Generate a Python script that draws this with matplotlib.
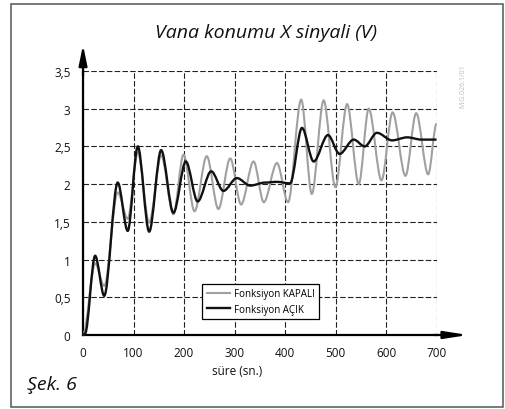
import matplotlib
matplotlib.use("Agg")
import matplotlib.pyplot as plt
from matplotlib.path import Path
from matplotlib.patches import PathPatch, Rectangle
from matplotlib.lines import Line2D

# values (peaks / troughs of each curve)
acik_x = [0, 4, 24, 42, 68.7, 88.5, 108.4, 131, 154.7, 179, 203.6, 227, 253.8, 278,
          304.7, 331, 360, 384, 410, 433.6, 456.7, 485, 508, 536, 557.8, 582, 612,
          642, 670, 700]
acik_y = [0, 0.02, 1.05, 0.52, 2.02, 1.38, 2.50, 1.37, 2.45, 1.62, 2.30, 1.77, 2.17, 1.91,
          2.08, 1.98, 2.02, 2.03, 2.01, 2.745, 2.30, 2.65, 2.40, 2.59, 2.50, 2.68, 2.58,
          2.62, 2.59, 2.59]

kapali_x = [0, 24, 42, 68.7, 88.5, 108.4, 131, 154.7, 179, 199, 220.8, 245, 268, 291.5,
            313, 337.7, 358, 384, 406, 432, 453, 476.5, 499.7, 522.9, 546, 565.8, 591,
            613, 638.5, 659.7, 683.5, 700]
kapali_y = [0, 0.95, 0.65, 1.89, 1.54, 2.42, 1.49, 2.38, 1.60, 2.39, 1.64, 2.37, 1.67, 2.34,
            1.73, 2.30, 1.76, 2.28, 1.76, 3.12, 1.87, 3.11, 1.96, 3.06, 2.00, 3.00, 2.05,
            2.95, 2.11, 2.94, 2.13, 2.80]

x_ticks = [0, 100, 200, 300, 400, 500, 600, 700]
y_ticks = [0, 0.5, 1, 1.5, 2, 2.5, 3, 3.5]
y_labels = ["0", "0,5", "1", "1,5", "2", "2,5", "3", "3,5"]

plt.rcParams["font.family"] = ["Open Sans", "DejaVu Sans"]


def smooth_path(xs, ys):
    # cubic bezier through the extrema, flat tangent at each one
    verts = [(xs[0], ys[0])]
    codes = [Path.MOVETO]
    for i in range(len(xs) - 1):
        dx = (xs[i + 1] - xs[i]) / 3.0
        verts += [(xs[i] + dx, ys[i]), (xs[i + 1] - dx, ys[i + 1]), (xs[i + 1], ys[i + 1])]
        codes += [Path.CURVE4] * 3
    return Path(verts, codes)


fig = plt.figure(figsize=(5.05, 4.1), dpi=100)
ax = fig.add_axes([0.1644, 0.1805, 0.70, 0.644])

# outer frame
fig.patches.append(Rectangle((11 / 505, 2 / 410), 492 / 505, 403 / 410, transform=fig.transFigure,
                             fill=False, edgecolor="#555555", lw=1.1))

ax.set_xlim(0, 700)
ax.set_ylim(0, 3.5)
ax.set_xticks(x_ticks)
ax.set_yticks(y_ticks)
ax.set_yticklabels(y_labels)
ax.tick_params(length=0, labelsize=8.5, colors="#111111")
ax.tick_params(axis="x", pad=8)
ax.tick_params(axis="y", pad=9)
ax.grid(True, color="#222222", lw=0.8, linestyle=(0, (5, 2)))
for s in ["top", "right"]:
    ax.spines[s].set_visible(False)
for s in ["left", "bottom"]:
    ax.spines[s].set_linewidth(1.6)

# axis arrows
ax.annotate("", xy=(0, 3.88), xytext=(0, 3.4), annotation_clip=False,
            arrowprops=dict(arrowstyle="-|>,head_length=1.2,head_width=0.25", color="black", lw=1.6))
ax.annotate("", xy=(768, 0), xytext=(690, 0), annotation_clip=False,
            arrowprops=dict(arrowstyle="-|>,head_length=1.4,head_width=0.22", color="black", lw=1.6))

ax.add_patch(PathPatch(smooth_path(kapali_x, kapali_y), fill=False, edgecolor="#a0a0a0", lw=1.5,
                       clip_on=False, zorder=3))
ax.add_patch(PathPatch(smooth_path(acik_x, acik_y), fill=False, edgecolor="#111111", lw=1.7,
                       clip_on=False, zorder=4))

handles = [Line2D([], [], color="#a0a0a0", lw=1.5), Line2D([], [], color="#111111", lw=1.7)]
leg = ax.legend(handles, ["Fonksiyon KAPALI", "Fonksiyon AÇIK"], loc="lower left",
                bbox_to_anchor=(0.337, 0.06), fontsize=7, frameon=True, fancybox=False,
                framealpha=1, edgecolor="black", handlelength=2.4, handletextpad=0.4,
                borderpad=0.45, labelspacing=0.5, borderaxespad=0)
leg.get_frame().set_linewidth(0.9)
leg.set_zorder(5)

fig.text(266 / 505, 1 - 33 / 410, "Vana konumu X sinyali (V)", style="italic", fontsize=14,
         ha="center", va="center", color="#111111")
fig.text(237 / 505, 1 - 372 / 410, "süre (sn.)", fontsize=8.5, ha="center", va="center",
         color="#111111")
fig.text(27 / 505, 1 - 385 / 410, "Şek. 6", style="italic", fontsize=14, ha="left", va="center",
         color="#111111")
fig.text(463 / 505, 1 - 86 / 410, "M.G.026.1/01", rotation=90, fontsize=5, ha="center",
         va="center", color="#bbbbbb")

fig.savefig("out.png", dpi=100)
